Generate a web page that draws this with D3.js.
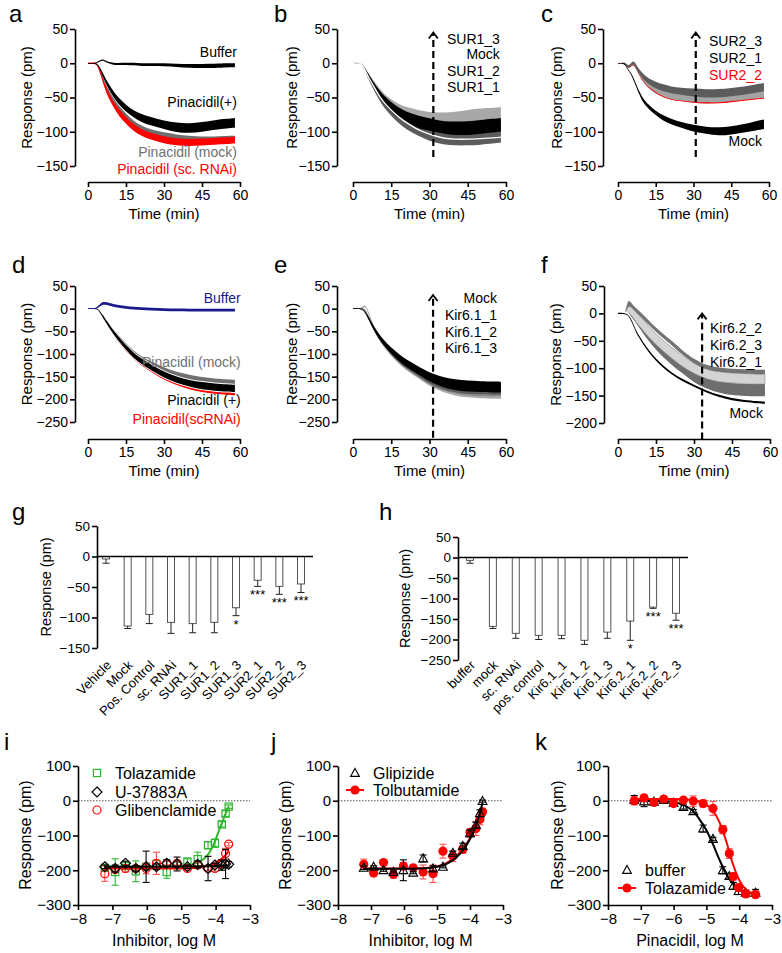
<!DOCTYPE html>
<html><head><meta charset="utf-8">
<script src="https://cdn.jsdelivr.net/npm/d3@7"></script>
<style>body{margin:0;background:#fff}</style>
</head><body>
<svg id="c" width="782" height="953" style="display:block;background:#fff"></svg>
<script>
// ---------------- DATA ----------------
const timeTicks = [0,15,30,45,60];
const yTicks150 = [50,0,-50,-100,-150];
const yTicks200 = [50,0,-50,-100,-150,-200];
const yTicks250 = [50,0,-50,-100,-150,-200,-250];
const doseYTicks = [100,0,-100,-200,-300];
const doseXTicks = [-8,-7,-6,-5,-4,-3];

// panel a
const tA = [0,2,3,4,5,6,7,8,10,12,15,18,21,25,30,35,40,45,50,55,58];
const aBufMean = [0,0,0,2,4,5,3,1,-1,-1,-1,-1,-2,-2,-2,-3,-4,-4,-4,-3,-3];
const aBufSem  = [0.5,0.5,0.5,1,1,1,1,1,1.5,1.5,1.5,2,2,2,2,2.5,2.5,3,3,3,3];
const aPlusMean= [0,0,0,-3,-10,-18,-26,-33,-45,-55,-66,-74,-80,-85,-90,-94,-95,-93,-90,-88,-87];
const aPlusSem = [0.5,0.5,0.5,1,2,3,3,4,4,5,5,5,6,6,6,7,7,7,7,7,7];
const aMockMean= [0,0,0,-4,-13,-24,-33,-41,-54,-65,-78,-88,-95,-101,-105,-108,-110,-111,-111,-110,-110];
const aMockSem = [0.5,0.5,0.5,1,2,3,3,3,3,4,4,4,4,4,4,4,4,4,4,4,4];
const aScMean  = [0,0,0,-4,-15,-27,-37,-46,-60,-71,-84,-94,-101,-107,-112,-115,-116,-115,-114,-113,-112];
const aScSem   = [1,1,1,2,3,3,4,4,4,5,5,5,5,5,5,5,5,5,5,5,5];

// panel b
const tB = [0,1,2,3,4,5,6,8,10,12,15,18,21,25,28,32,36,40,45,50,55,58];
const bS13Mean = [0,0,1,0,-4,-10,-16,-28,-39,-49,-59,-67,-72,-77,-80,-83,-84,-84,-82,-80,-79,-78];
const bS13Sem  = [0.5,0.5,0.5,0.5,1,2,2,3,4,5,6,7,8,9,10,11,12,13,14,14,14,14];
const bMockMean= [0,0,1,0,-4,-11,-18,-31,-43,-53,-64,-73,-79,-85,-88,-91,-94,-95,-95,-93,-91,-90];
const bMockSem = [0.5,0.5,0.5,0.5,1,2,3,4,5,6,7,8,8,9,9,9,9,10,10,10,10,10];
const bS12Mean = [0,0,1,0,-5,-12,-20,-34,-47,-58,-70,-80,-88,-96,-101,-106,-109,-110,-110,-109,-107,-106];
const bS12Sem  = [0.5,0.5,0.5,0.5,1,2,3,4,5,6,7,8,9,9,9,10,10,10,10,10,10,10];
const bS11Mean = [0,0,1,0,-5,-12,-20,-33,-46,-57,-69,-79,-87,-96,-101,-106,-110,-111,-111,-110,-109,-108];
const bS11Sem  = [0.3,0.3,0.3,0.3,0.5,0.5,0.5,0.6,0.6,0.6,0.6,0.6,0.6,0.6,0.6,0.6,0.6,0.6,0.6,0.6,0.6,0.6];

// panel c
const tC = [0,1,2,3,4,5,6,7,8,10,12,15,18,21,25,30,35,40,45,50,55,58];
const cMockMean = [0,0,0,-2,-10,-14,-22,-30,-40,-55,-63,-73,-80,-85,-90,-95,-98,-100,-98,-95,-91,-89];
const cMockSem  = [0.5,0.5,0.5,1,1,1,2,2,2,3,3,3,4,4,4,5,5,6,6,6,7,7];
const cS23Mean  = [0,0,0,0,-6,-3,2,-3,-10,-20,-26,-32,-36,-39,-41,-43,-44,-44,-42,-40,-37,-35];
const cS23Sem   = [0.5,0.5,0.5,1,2,2,2,3,3,4,4,5,5,5,5,6,6,6,6,6,6,6];
const cS21Mean  = [0,0,0,0,-6,-3,1,-4,-12,-24,-32,-40,-45,-48,-50,-52,-53,-52,-50,-48,-46,-45];
const cS21Sem   = [0.5,0.5,0.5,1,2,2,2,3,3,4,4,5,5,5,5,6,6,6,6,6,6,6];
const cS22Mean  = [0,0,0,0,-7,-5,-2,-6,-14,-27,-35,-43,-49,-53,-55,-57,-58,-58,-56,-54,-52,-51];
const cS22Sem   = [0.4,0.4,0.4,0.4,0.6,0.6,0.6,0.6,0.6,0.6,0.6,0.6,0.6,0.6,0.6,0.8,0.8,0.8,0.8,0.8,0.8,0.8];

// panel d
const tD = [0,2,3,4,5,6,7,8,10,12,15,18,21,25,30,35,40,45,50,55,58];
const dBufMean = [0,0,0,4,9,12,12,10,7,5,3,1,0,-1,-2,-3,-3,-3,-3,-3,-3];
const dBufSem  = [1,1,1,2,3,3,3,3,3,3,3,3,3,3,3,3,3,3,3,3,3];
const dMockMean= [0,0,0,-1,-10,-18,-27,-35,-50,-63,-82,-98,-110,-123,-136,-146,-152,-157,-160,-162,-163];
const dMockSem = [1,1,1,1,2,3,3,4,4,5,5,5,5,6,6,6,6,6,6,6,6];
const dPlusMean= [0,0,0,-1,-10,-18,-27,-35,-52,-66,-86,-103,-116,-130,-146,-157,-165,-170,-173,-175,-176];
const dPlusSem = [1,1,1,1,2,3,3,4,4,5,5,6,6,6,7,7,7,8,8,8,8];
const dScMean  = [0,0,0,-1,-10,-19,-28,-37,-54,-69,-89,-106,-120,-135,-152,-164,-173,-179,-183,-185,-186];
const dScSem   = [1,1,1,1,2,3,3,3,4,4,5,5,5,5,5,5,5,5,5,5,5];

// panel e
const tE = [0,1,2,3,4,5,6,8,10,12,15,18,21,25,30,35,40,45,50,55,58];
const eMockMean = [0,0,0,0,-3,-10,-20,-42,-60,-75,-93,-108,-121,-134,-151,-162,-168,-171,-172,-173,-173];
const eMockSem  = [1,1,1,1,1,2,3,4,5,6,7,8,8,9,10,11,12,12,12,12,12];
const eK11Mean  = [0,0,0,0,-1,-8,-19,-42,-60,-75,-94,-110,-123,-137,-155,-166,-173,-176,-177,-178,-178];
const eK11Sem   = [1,1,1,1,1,2,3,4,5,6,7,8,9,10,11,12,12,12,12,12,12];
const eK12Mean  = [0,0,0,0,1,-5,-17,-43,-62,-77,-96,-112,-125,-139,-157,-168,-175,-179,-180,-181,-181];
const eK12Sem   = [1,1,1,1,1,2,3,4,5,6,7,8,9,10,11,12,13,13,13,13,13];
const eK13Mean  = [0,0,0,0,5,6,-8,-40,-62,-78,-98,-114,-127,-141,-159,-171,-178,-182,-184,-185,-185];
const eK13Sem   = [1,1,1,1,2,2,3,4,5,6,7,8,9,10,12,13,14,14,14,14,14];

// panel f
const tF = [0,1,2,3,4,5,6,7,8,10,12,15,18,21,25,30,35,40,45,50,55,58];
const fMockMean = [0,0,0,-1,-3,-10,-20,-32,-40,-55,-68,-85,-98,-109,-121,-132,-143,-151,-157,-160,-162,-163];
const fMockSem  = [1,1,1,1,1,1.5,2,2,2,2,2,2,2,2,2,2,2,2,2,2,2,2];
const fK21Mean  = [0,0,0,0,5,0,-6,-12,-18,-30,-42,-57,-71,-83,-98,-115,-128,-135,-138,-140,-140,-140];
const fK21Sem   = [0.5,0.5,0.5,1,3,4,5,5,6,7,8,9,10,10,10,11,11,11,11,11,11,11];
const fK23Mean  = [0,0,0,0,14,8,2,-5,-11,-22,-33,-47,-60,-71,-86,-101,-111,-116,-118,-119,-120,-120];
const fK23Sem   = [0.5,0.5,0.5,1,12,10,10,10,10,10,10,10,10,10,10,9,9,9,9,9,9,9];
const fK22Mean  = [0,0,0,0,20,16,11,6,2,-7,-16,-30,-42,-53,-70,-88,-99,-103,-105,-106,-107,-107];
const fK22Sem   = [0.5,0.5,0.5,1,6,4,4,4,4,4,4,4,4,4,4,4,4,4,4,4,4,4];

// panel g
const gCats = ["Vehicle","Mock","Pos. Control","sc. RNAi","SUR1_1","SUR1_2","SUR1_3","SUR2_1","SUR2_2","SUR2_3"];
const gMean = [-4,-114,-95,-108,-110,-108,-84,-39,-49,-45];
const gErr  = [7,4,15,18,15,17,13,10,13,14];
const gSig  = ["","","","","","","*","***","***","***"];

// panel h
const hCats = ["buffer","mock","sc. RNAi","pos. control","Kir6.1_1","Kir6.1_2","Kir6.1_3","Kir6.2_1","Kir6.2_2","Kir6.2_3"];
const hMean = [-7,-168,-185,-190,-190,-202,-182,-155,-121,-136];
const hErr  = [7,5,12,10,8,10,15,47,3,17];
const hSig  = ["","","","","","","","*","***","***"];

// panel i
const iX = [-7.22,-6.92,-6.62,-6.32,-6.02,-5.72,-5.42,-5.12,-4.82,-4.52,-4.22,-4.02,-3.82,-3.71,-3.62];
const iTolaz    = [-193,-205,-188,-203,-190,-182,-205,-185,-175,-168,-128,-122,-68,-37,-17];
const iTolazErr = [8,38,10,30,8,10,18,8,8,20,10,12,8,8,5];
const iU37      = [-190,-195,-180,-195,-190,-190,-180,-182,-190,-183,-195,-185,-185,-182,-183];
const iU37Err   = [5,10,6,8,45,8,10,20,5,10,35,5,15,42,8];
const iGlib     = [-210,-198,-195,-195,-195,-180,-180,-180,-195,-185,-195,-195,-180,-152,-125];
const iGlibErr  = [22,5,10,5,15,32,5,5,5,8,5,8,10,15,5];
const iTolazFitX = [-7.22,-5.5,-5.0,-4.8,-4.6,-4.4,-4.2,-4.05,-3.9,-3.8,-3.7,-3.62];
const iTolazFitY = [-190,-190,-188,-186,-181,-172,-152,-125,-85,-60,-35,-17];
const iU37FitX = [-7.22,-5.0,-3.62];
const iU37FitY = [-190,-189,-186];
const iGlibFitX = [-7.22,-5.0,-4.5,-4.2,-4.0,-3.8,-3.7,-3.62];
const iGlibFitY = [-195,-195,-192,-186,-178,-165,-155,-145];

// panel j
const jX = [-7.22,-6.92,-6.62,-6.32,-6.02,-5.72,-5.42,-5.12,-4.82,-4.52,-4.22,-4.0,-3.82,-3.7,-3.62];
const jGlip     = [-193,-190,-200,-205,-200,-207,-166,-195,-190,-150,-130,-94,-70,-36,-1];
const jGlipErr  = [5,3,3,3,30,3,10,8,3,5,8,10,8,10,3];
const jTolb     = [-183,-208,-178,-212,-188,-193,-205,-210,-145,-160,-140,-91,-80,-54,-32];
const jTolbErr  = [15,8,5,10,10,5,20,25,20,15,10,10,20,15,10];
const jFitX     = [-7.22,-6.0,-5.5,-5.2,-5.0,-4.8,-4.6,-4.4,-4.2,-4.0,-3.9,-3.8,-3.7,-3.62];
const jTolbFitY = [-195,-195,-194,-192,-189,-183,-173,-158,-137,-108,-90,-68,-44,-20];
const jGlipFitY = [-196,-196,-195,-193,-190,-185,-176,-162,-141,-110,-90,-65,-35,-5];

// panel k
const kX        = [-7.2,-6.9,-6.6,-6.3,-6.0,-5.7,-5.4,-5.1,-4.8,-4.5,-4.3,-4.18,-4.02,-3.8,-3.5];
const kBuf      = [3,-2,-3,2,-6,-18,-30,-80,-110,-200,-217,-245,-260,-265,-265];
const kBufErr   = [12,15,5,5,5,6,5,10,5,10,8,10,10,8,10];
const kTolaz    = [0,8,-5,5,-8,2,-1,-8,-22,-83,-152,-218,-250,-268,-270];
const kTolazErr = [12,10,5,5,5,5,15,10,20,12,14,10,10,8,10];
const kBufFitX  = [-7.2,-6.5,-6.0,-5.7,-5.4,-5.2,-5.0,-4.8,-4.6,-4.4,-4.2,-4.0,-3.8,-3.5];
const kBufFitY  = [0,-1,-4,-12,-30,-55,-85,-125,-170,-210,-238,-255,-263,-268];
const kTolFitX  = [-7.2,-6.0,-5.5,-5.2,-5.0,-4.8,-4.6,-4.4,-4.2,-4.0,-3.8,-3.5];
const kTolFitY  = [5,5,3,-3,-12,-28,-62,-115,-180,-228,-255,-268];

// ---------------- DRAWING ----------------
const FONT = '"Liberation Sans", Arial, Helvetica, sans-serif';
const svg = d3.select("#c");

function txt(g, x, y, s, o = {}) {
  const t = g.append("text").attr("x", x).attr("y", y).text(s)
    .attr("font-family", FONT).attr("font-size", o.fs || 14)
    .attr("fill", o.fill || "#000").attr("text-anchor", o.anchor || "start");
  if (o.rot != null) t.attr("transform", `rotate(${o.rot},${x},${y})`);
  return t;
}
function styleAxis(ax, fs) {
  ax.select(".domain").attr("stroke", "#000").attr("stroke-width", 1.6);
  ax.selectAll(".tick line").attr("stroke", "#000").attr("stroke-width", 1.6);
  ax.selectAll(".tick text").attr("font-size", fs).attr("font-family", FONT).attr("fill", "#000");
}
function yAxis(g, y, ax, ticks, fs) {
  const a = g.append("g").attr("transform", `translate(${ax},0)`)
    .call(d3.axisLeft(y).tickValues(ticks).tickSize(5).tickSizeOuter(0).tickPadding(2).tickFormat(d3.format("d")));
  styleAxis(a, fs);
}
function xAxis(g, x, ay, ticks, fs) {
  const a = g.append("g").attr("transform", `translate(0,${ay})`)
    .call(d3.axisBottom(x).tickValues(ticks).tickSize(5).tickSizeOuter(0).tickPadding(3).tickFormat(d3.format("d")));
  styleAxis(a, fs);
}

function timePanel(p) {
  const g = svg.append("g");
  const x = d3.scaleLinear().domain([0, 60]).range(p.xr);
  const y = d3.scaleLinear().domain(p.yd).range(p.yr);
  p.series.forEach(s => {
    const pts = s.t.map((t, i) => ({ t, m: s.mean[i], e: s.sem[i] }));
    if (s.halo) {
      g.append("path").datum(pts)
        .attr("d", d3.area().curve(d3.curveBasis).x(d => x(d.t)).y0(d => y(d.m - d.e) + s.halo).y1(d => y(d.m + d.e) - s.halo))
        .attr("fill", "#fff");
    }
    if (s.fill) {
      g.append("path").datum(pts)
        .attr("d", d3.area().curve(d3.curveBasis).x(d => x(d.t)).y0(d => y(d.m - d.e)).y1(d => y(d.m + d.e)))
        .attr("fill", s.fill).attr("stroke", s.edge || "none").attr("stroke-width", 0.6);
    }
    if (s.line) {
      g.append("path").datum(pts)
        .attr("d", d3.line().curve(d3.curveBasis).x(d => x(d.t)).y(d => y(d.m)))
        .attr("fill", "none").attr("stroke", s.line).attr("stroke-width", s.lw || 1.3);
    }
  });
  if (p.arrow) {
    const ax = x(p.arrow.t), yb = y(p.arrow.from), yt = y(p.arrow.to);
    g.append("line").attr("x1", ax).attr("x2", ax).attr("y1", yb).attr("y2", yt + 1)
      .attr("stroke", "#000").attr("stroke-width", 2.2).attr("stroke-dasharray", "7,4");
    g.append("path").attr("d", `M${ax - 4.5},${yt + 6}L${ax},${yt}L${ax + 4.5},${yt + 6}`)
      .attr("fill", "none").attr("stroke", "#000").attr("stroke-width", 1.8);
  }
  yAxis(g, y, p.axisX, p.yTicks, 14);
  xAxis(g, x, p.xAxisY, timeTicks, 14);
  txt(g, (p.xr[0] + p.xr[1]) / 2, p.xAxisY + 37, "Time (min)", { fs: 15, anchor: "middle" });
  const ym = (p.yr[0] + p.yr[1]) / 2;
  txt(g, p.titleX, ym, "Response (pm)", { fs: 15, anchor: "middle", rot: -90 }).attr("dy", "0.35em");
  txt(g, p.letter[1], p.letter[2], p.letter[0], { fs: 24 });
  p.labels.forEach(l => txt(g, x(l.t), y(l.v), l.s, { fs: 14, fill: l.c || "#000", anchor: l.a || "end" }));
}

// a
timePanel({
  xr: [88, 240], yd: [50, -150], yr: [29, 166], axisX: 75, xAxisY: 182, yTicks: yTicks150,
  titleX: 27, letter: ["a", 9, 22],
  series: [
    { t: tA, mean: aMockMean, sem: aMockSem, fill: "#6f6f6f" },
    { t: tA, mean: aScMean, sem: aScSem, fill: "#ff0000" },
    { t: tA, mean: aPlusMean, sem: aPlusSem, fill: "#000" },
    { t: tA, mean: aBufMean, sem: aBufSem, fill: "#000" }
  ],
  labels: [
    { s: "Buffer", t: 58.8, v: 9 },
    { s: "Pinacidil(+)", t: 58.8, v: -64 },
    { s: "Pinacidil (mock)", t: 58.8, v: -137, c: "#707070" },
    { s: "Pinacidil (sc. RNAi)", t: 58.8, v: -162, c: "#ff0000" }
  ]
});
// b
timePanel({
  xr: [353, 506], yd: [50, -150], yr: [29, 166], axisX: 337, xAxisY: 182, yTicks: yTicks150,
  titleX: 292, letter: ["b", 274, 22],
  series: [
    { t: tB, mean: bS13Mean, sem: bS13Sem, fill: "#a8a8a8" },
    { t: tB, mean: bS12Mean, sem: bS12Sem, fill: "#5c5c5c" },
    { t: tB, mean: bMockMean, sem: bMockSem, fill: "#000" },
    { t: tB, mean: bS11Mean, sem: bS11Sem, line: "#fff", lw: 1.4 }
  ],
  arrow: { t: 31.5, from: -137, to: 45 },
  labels: [
    { s: "SUR1_3", t: 57.6, v: 28 },
    { s: "Mock", t: 57.6, v: 6 },
    { s: "SUR1_2", t: 57.6, v: -19 },
    { s: "SUR1_1", t: 57.6, v: -42 }
  ]
});
// c
timePanel({
  xr: [618, 769], yd: [50, -150], yr: [29, 166], axisX: 603, xAxisY: 182, yTicks: yTicks150,
  titleX: 557, letter: ["c", 541, 22],
  series: [
    { t: tC, mean: cS21Mean, sem: cS21Sem, fill: "#a3a3a3" },
    { t: tC, mean: cS22Mean, sem: cS22Sem, fill: "#ff0000" },
    { t: tC, mean: cS23Mean, sem: cS23Sem, fill: "#5c5c5c" },
    { t: tC, mean: cMockMean, sem: cMockSem, fill: "#000" }
  ],
  arrow: { t: 30.9, from: -137, to: 45 },
  labels: [
    { s: "SUR2_3", t: 57.2, v: 25 },
    { s: "SUR2_1", t: 57.2, v: 0 },
    { s: "SUR2_2", t: 57.2, v: -25, c: "#ff0000" },
    { s: "Mock", t: 57.2, v: -121 }
  ]
});
// d
timePanel({
  xr: [88, 240], yd: [50, -250], yr: [286, 422], axisX: 75, xAxisY: 439, yTicks: yTicks250,
  titleX: 27, letter: ["d", 12, 273],
  series: [
    { t: tD, mean: dMockMean, sem: dMockSem, fill: "#707070" },
    { t: tD, mean: dScMean, sem: dScSem, fill: "#ff0000" },
    { t: tD, mean: dPlusMean, sem: dPlusSem, fill: "#000", halo: 1 },
    { t: tD, mean: dBufMean, sem: dBufSem, fill: "#1a1a8c" }
  ],
  labels: [
    { s: "Buffer", t: 60.3, v: 12.6, c: "#1a1a8c" },
    { s: "Pinacidil (mock)", t: 60.3, v: -129, c: "#707070" },
    { s: "Pinacidil (+)", t: 60.3, v: -212 },
    { s: "Pinacidil(scRNAi)", t: 60.3, v: -254, c: "#ff0000" }
  ]
});
// e
timePanel({
  xr: [353, 506], yd: [50, -250], yr: [286, 422], axisX: 337, xAxisY: 439, yTicks: yTicks250,
  titleX: 292, letter: ["e", 274, 273],
  series: [
    { t: tE, mean: eK13Mean, sem: eK13Sem, fill: "#adadad" },
    { t: tE, mean: eK12Mean, sem: eK12Sem, fill: "#8a8a8a" },
    { t: tE, mean: eK11Mean, sem: eK11Sem, fill: "#5a5a5a" },
    { t: tE, mean: eMockMean, sem: eMockSem, fill: "#000" }
  ],
  arrow: { t: 31.4, from: -285, to: 30 },
  labels: [
    { s: "Mock", t: 56.5, v: 12.6 },
    { s: "Kir6.1_1", t: 56.5, v: -25 },
    { s: "Kir6.1_2", t: 56.5, v: -63 },
    { s: "Kir6.1_3", t: 56.5, v: -98 }
  ]
});
// f
timePanel({
  xr: [618, 770], yd: [50, -200], yr: [286, 423], axisX: 604, xAxisY: 439, yTicks: yTicks200,
  titleX: 556, letter: ["f", 541, 273],
  series: [
    { t: tF, mean: fK21Mean, sem: fK21Sem, fill: "#6e6e6e" },
    { t: tF, mean: fK23Mean, sem: fK23Sem, fill: "#d4d4d4", edge: "#8a8a8a" },
    { t: tF, mean: fK22Mean, sem: fK22Sem, fill: "#737373" },
    { t: tF, mean: fMockMean, sem: fMockSem, fill: "#000", halo: 2 }
  ],
  arrow: { t: 33.2, from: -230, to: 0 },
  labels: [
    { s: "Kir6.2_2", t: 36.3, v: -36, a: "start" },
    { s: "Kir6.2_3", t: 36.3, v: -67, a: "start" },
    { s: "Kir6.2_1", t: 36.3, v: -98, a: "start" },
    { s: "Mock", t: 57.2, v: -191 }
  ]
});

// ---------- bar panels ----------
function barPanel(p) {
  const g = svg.append("g");
  const x = d3.scalePoint().domain(p.cats).range(p.xr);
  const y = d3.scaleLinear().domain(p.yd).range(p.yr);
  const bw = 7;
  p.cats.forEach((c, i) => {
    const cx = x(c), m = p.mean[i], e = p.err[i];
    g.append("rect").attr("x", cx - bw / 2).attr("y", y(0)).attr("width", bw).attr("height", y(m) - y(0))
      .attr("fill", "#fff").attr("stroke", "#555").attr("stroke-width", 1);
    g.append("line").attr("x1", cx).attr("x2", cx).attr("y1", y(m)).attr("y2", y(m - e)).attr("stroke", "#222").attr("stroke-width", 1);
    g.append("line").attr("x1", cx - 3.5).attr("x2", cx + 3.5).attr("y1", y(m - e)).attr("y2", y(m - e)).attr("stroke", "#222").attr("stroke-width", 1);
    if (p.sig[i]) txt(g, cx, y(m - e) + 13, p.sig[i], { fs: 13, anchor: "middle" });
    txt(g, cx + 6, p.labelY, c, { fs: 13, anchor: "end", rot: -45 });
  });
  g.append("line").attr("x1", p.axisX).attr("x2", p.zeroEnd).attr("y1", y(0)).attr("y2", y(0)).attr("stroke", "#000").attr("stroke-width", 1.6);
  yAxis(g, y, p.axisX, p.yTicks, 13.5);
  txt(g, p.titleX, (p.yr[0] + p.yr[1]) / 2, "Response (pm)", { fs: 14.5, anchor: "middle", rot: -90 }).attr("dy", "0.35em");
  txt(g, p.letter[1], p.letter[2], p.letter[0], { fs: 24 });
}
barPanel({ cats: gCats, mean: gMean, err: gErr, sig: gSig, xr: [106, 301], yd: [50, -150], yr: [526, 648],
  axisX: 97, zeroEnd: 313, yTicks: yTicks150, titleX: 46, labelY: 666, letter: ["g", 12, 520] });
barPanel({ cats: hCats, mean: hMean, err: hErr, sig: hSig, xr: [470, 676], yd: [50, -250], yr: [537, 660],
  axisX: 458, zeroEnd: 688, yTicks: yTicks250, titleX: 405, labelY: 666, letter: ["h", 379, 520] });

// ---------- dose-response panels ----------
function marker(g, type, cx, cy, color) {
  if (type === "square") g.append("rect").attr("x", cx - 3.6).attr("y", cy - 3.6).attr("width", 7.2).attr("height", 7.2).attr("fill", "none").attr("stroke", color).attr("stroke-width", 1.2);
  else if (type === "diamond") g.append("path").attr("d", `M${cx},${cy - 5}L${cx + 5},${cy}L${cx},${cy + 5}L${cx - 5},${cy}Z`).attr("fill", "none").attr("stroke", color).attr("stroke-width", 1.2);
  else if (type === "circle") g.append("circle").attr("cx", cx).attr("cy", cy).attr("r", 4).attr("fill", "none").attr("stroke", color).attr("stroke-width", 1.2);
  else if (type === "triangle") g.append("path").attr("d", `M${cx},${cy - 4.6}L${cx + 4.4},${cy + 3.4}L${cx - 4.4},${cy + 3.4}Z`).attr("fill", "none").attr("stroke", color).attr("stroke-width", 1.1);
  else if (type === "dot") g.append("circle").attr("cx", cx).attr("cy", cy).attr("r", 4.6).attr("fill", color);
}
function dosePanel(p) {
  const g = svg.append("g");
  const x = d3.scaleLinear().domain([-8, -3]).range(p.xr);
  const y = d3.scaleLinear().domain([100, -300]).range([766, 905]);
  g.append("line").attr("x1", x(-8)).attr("x2", x(-3)).attr("y1", y(0)).attr("y2", y(0))
    .attr("stroke", "#555").attr("stroke-width", 1).attr("stroke-dasharray", "1.5,1.5");
  p.series.forEach(s => {
    const ec = s.errColor || s.color;
    s.x.forEach((xv, i) => {
      const cx = x(xv), y1 = y(s.y[i] + s.err[i]), y2 = y(s.y[i] - s.err[i]);
      g.append("line").attr("x1", cx).attr("x2", cx).attr("y1", y1).attr("y2", y2).attr("stroke", ec).attr("stroke-width", 1.1);
      [y1, y2].forEach(yy => g.append("line").attr("x1", cx - 3.5).attr("x2", cx + 3.5).attr("y1", yy).attr("y2", yy).attr("stroke", ec).attr("stroke-width", 1.1));
    });
    g.append("path").datum(s.fitX.map((v, i) => [v, s.fitY[i]]))
      .attr("d", d3.line().curve(d3.curveMonotoneX).x(d => x(d[0])).y(d => y(d[1])))
      .attr("fill", "none").attr("stroke", s.color).attr("stroke-width", 2);
    s.x.forEach((xv, i) => marker(g, s.marker, x(xv), y(s.y[i]), s.color));
  });
  yAxis(g, y, x(-8), doseYTicks, 15);
  xAxis(g, x, y(-300), doseXTicks, 15);
  txt(g, (p.xr[0] + p.xr[1]) / 2, 946, p.xTitle, { fs: 16, anchor: "middle" });
  txt(g, p.titleX, 835, "Response (pm)", { fs: 16, anchor: "middle", rot: -90 }).attr("dy", "0.35em");
  txt(g, p.letter[1], p.letter[2], p.letter[0], { fs: 24 });
  p.legend.forEach(l => {
    if (l.line) g.append("line").attr("x1", l.mx - 9).attr("x2", l.mx + 9).attr("y1", l.my).attr("y2", l.my).attr("stroke", l.color).attr("stroke-width", 2);
    marker(g, l.marker, l.mx, l.my, l.color);
    txt(g, l.mx + 18, l.my + 5.5, l.s, { fs: 16 });
  });
}
const GREEN = "#2fb52f", RED = "#ff0000";
dosePanel({
  xr: [78, 250], xTitle: "Inhibitor, log M", titleX: 25, letter: ["i", 4, 750],
  series: [
    { x: iX, y: iTolaz, err: iTolazErr, color: GREEN, marker: "square", fitX: iTolazFitX, fitY: iTolazFitY },
    { x: iX, y: iGlib, err: iGlibErr, color: RED, errColor: "#ff5050", marker: "circle", fitX: iGlibFitX, fitY: iGlibFitY },
    { x: iX, y: iU37, err: iU37Err, color: "#000", marker: "diamond", fitX: iU37FitX, fitY: iU37FitY }
  ],
  legend: [
    { s: "Tolazamide", marker: "square", color: GREEN, mx: 97, my: 773 },
    { s: "U-37883A", marker: "diamond", color: "#000", mx: 97, my: 792 },
    { s: "Glibenclamide", marker: "circle", color: RED, mx: 97, my: 810 }
  ]
});
dosePanel({
  xr: [338, 503], xTitle: "Inhibitor, log M", titleX: 285, letter: ["j", 271, 750],
  series: [
    { x: jX, y: jTolb, err: jTolbErr, color: RED, errColor: "#ff5050", marker: "dot", fitX: jFitX, fitY: jTolbFitY },
    { x: jX, y: jGlip, err: jGlipErr, color: "#000", marker: "triangle", fitX: jFitX, fitY: jGlipFitY }
  ],
  legend: [
    { s: "Glipizide", marker: "triangle", color: "#000", mx: 355, my: 773 },
    { s: "Tolbutamide", marker: "dot", color: RED, mx: 355, my: 790, line: true }
  ]
});
dosePanel({
  xr: [608, 772], xTitle: "Pinacidil, log M", titleX: 557, letter: ["k", 535, 750],
  series: [
    { x: kX, y: kBuf, err: kBufErr, color: "#000", marker: "triangle", fitX: kBufFitX, fitY: kBufFitY },
    { x: kX, y: kTolaz, err: kTolazErr, color: RED, errColor: "#ff5050", marker: "dot", fitX: kTolFitX, fitY: kTolFitY }
  ],
  legend: [
    { s: "buffer", marker: "triangle", color: "#000", mx: 627, my: 870 },
    { s: "Tolazamide", marker: "dot", color: RED, mx: 627, my: 888, line: true }
  ]
});
</script>
</body></html>
